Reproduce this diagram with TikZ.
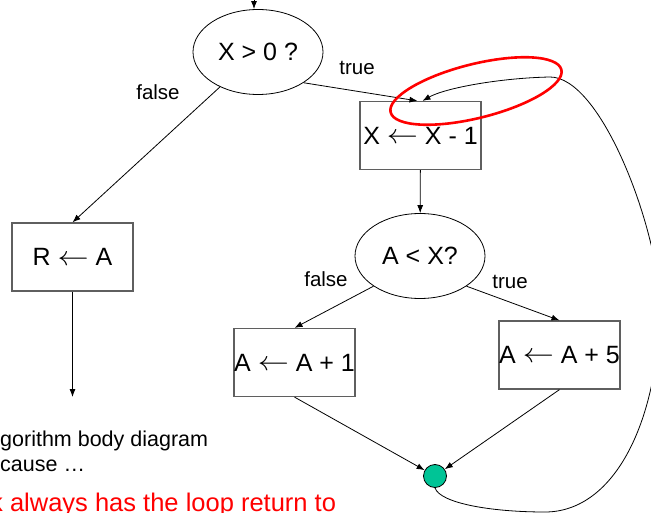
\documentclass[tikz,border=0pt]{standalone}
\usepackage{fontspec}
\setmainfont{Liberation Sans}
\usepackage{tikz}
\usetikzlibrary{arrows.meta,shapes.geometric}

\definecolor{joingreen}{RGB}{0,196,150}
\definecolor{boxgray}{RGB}{95,95,95}
\newcommand{\asgn}{\raisebox{0.5pt}{\scalebox{1.25}[1.1]{$\leftarrow$}}}

\begin{document}
\begin{tikzpicture}[x=1pt,y=1pt,
  flow/.style={-{Latex[length=8pt,width=6pt]},line width=0.8pt},
  test/.style={ellipse,draw,line width=0.8pt,minimum width=130pt,minimum height=85pt,inner sep=0pt,font=\fontsize{25}{29}\selectfont},
  assign/.style={rectangle,draw=boxgray,line width=1.2pt,minimum width=121pt,minimum height=68pt,inner sep=0pt,font=\fontsize{25}{29}\selectfont},
  branch/.style={inner sep=0pt,font=\fontsize{20.5}{24}\selectfont},
  note/.style={anchor=base west,inner sep=0pt,font=\fontsize{21.5}{26}\selectfont}]
\path[use as bounding box,clip] (0,0) rectangle (651,-513);

% Decisions
\node[test] (outer) at (258,-52) {X > 0 ?};
\node[test] (inner) at (420,-256) {A < X?};

% Assignments
\node[assign] (dec) at (420.5,-135.5) {X \asgn{} X - 1};
\node[assign] (ret) at (72.5,-257) {R \asgn{} A};
\node[assign] (inc1) at (294.5,-362.5) {A \asgn{} A + 1};
\node[assign] (inc5) at (559.5,-355) {A \asgn{} A + 5};

% Join point
\node[circle,draw,line width=0.8pt,fill=joingreen,minimum size=23pt,inner sep=0pt] (join) at (435,-476) {};

\coordinate (entry) at (254,0);
\coordinate (exit) at (72.5,-397);

% Branch labels
\node[branch] (t1) at (357,-68) {true};
\node[branch] (f1) at (158,-92) {false};
\node[branch] (f2) at (326,-279) {false};
\node[branch] (t2) at (510,-282) {true};

% Edges
\draw[flow] (entry) -- (entry |- outer.north);
\draw[flow] (outer) -- (ret.north);
\draw[flow] (outer.-34) -- ([xshift=-3pt]dec.north);
\draw[flow] (dec) -- (inner);
\draw[flow] (inner.213) -- (inc1.north);
\draw[flow] (inner.-33) -- (inc5.north);
\draw[flow] (inc1.south) -- (join);
\draw[flow] (inc5.south) -- (join);
\draw[flow] (ret) -- (exit);

% Loop back to the top of the body
\draw[flow] (join.south) .. controls (440,-503) and (490,-512) .. (545,-512)
  .. controls (615,-512) and (660,-420) .. (660,-300)
  .. controls (655,-220) and (600,-77) .. (550,-77)
  .. controls (500,-78) and (445,-88) .. ([xshift=2pt]dec.north);

% Highlight
\draw[red,line width=2.6pt,rotate around={14:(476,-91)}] (476,-91) ellipse (88pt and 27pt);

% Text
\node[note] (n1) at (0,-446) {gorithm body diagram};
\node[note] (n2) at (0,-471) {cause …};
\node[note,text=red,font=\fontsize{25.5}{30}\selectfont] (n3) at (-10,-511) {k always has the loop return to};
\end{tikzpicture}
\end{document}
